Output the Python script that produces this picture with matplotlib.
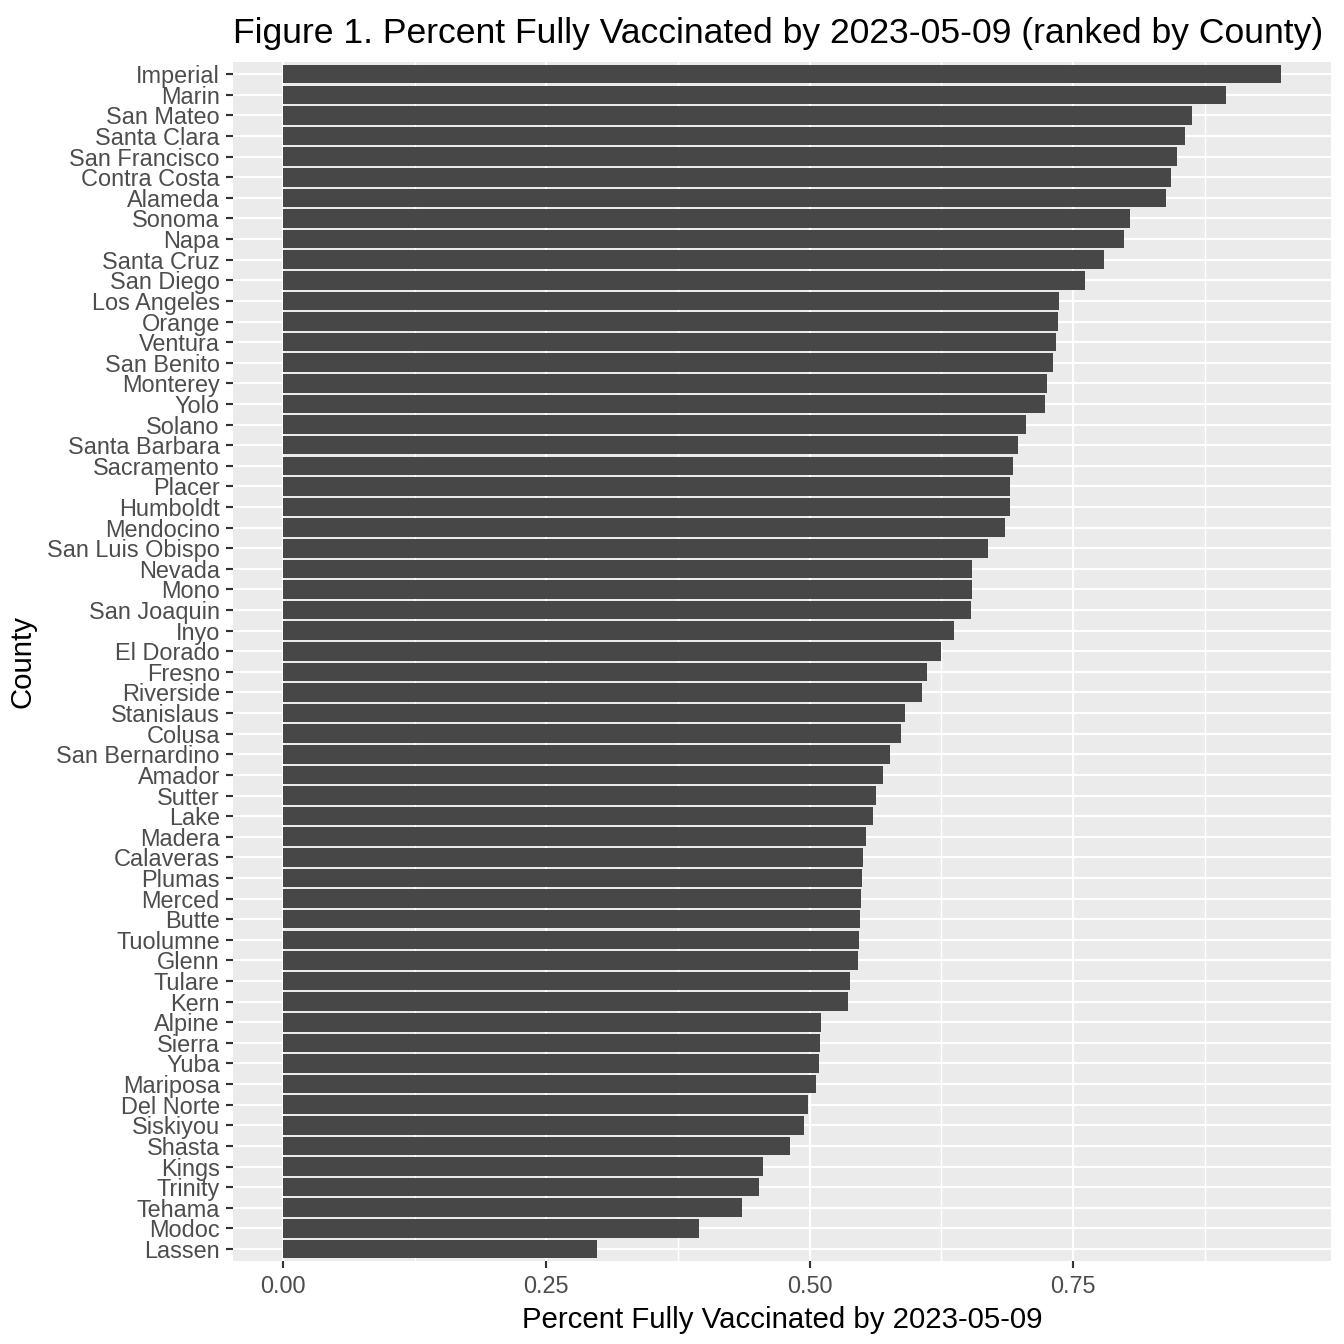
import matplotlib.pyplot as plt
import numpy as np

plt.rcParams["font.family"] = ["Liberation Sans", "DejaVu Sans"]

# counties listed top to bottom, as ranked in the chart
counties = ["Imperial", "Marin", "San Mateo", "Santa Clara", "San Francisco",
            "Contra Costa", "Alameda", "Sonoma", "Napa", "Santa Cruz",
            "San Diego", "Los Angeles", "Orange", "Ventura", "San Benito",
            "Monterey", "Yolo", "Solano", "Santa Barbara", "Sacramento",
            "Placer", "Humboldt", "Mendocino", "San Luis Obispo", "Nevada",
            "Mono", "San Joaquin", "Inyo", "El Dorado", "Fresno",
            "Riverside", "Stanislaus", "Colusa", "San Bernardino", "Amador",
            "Sutter", "Lake", "Madera", "Calaveras", "Plumas",
            "Merced", "Butte", "Tuolumne", "Glenn", "Tulare",
            "Kern", "Alpine", "Sierra", "Yuba", "Mariposa",
            "Del Norte", "Siskiyou", "Shasta", "Kings", "Trinity",
            "Tehama", "Modoc", "Lassen"]
pct_full = [0.947, 0.895, 0.863, 0.856, 0.849,
            0.843, 0.838, 0.804, 0.798, 0.779,
            0.761, 0.737, 0.736, 0.734, 0.731,
            0.725, 0.723, 0.705, 0.698, 0.693,
            0.690, 0.690, 0.685, 0.669, 0.654,
            0.654, 0.653, 0.637, 0.625, 0.611,
            0.607, 0.590, 0.587, 0.576, 0.570,
            0.563, 0.560, 0.553, 0.551, 0.550,
            0.549, 0.548, 0.547, 0.546, 0.538,
            0.536, 0.511, 0.510, 0.509, 0.506,
            0.498, 0.495, 0.481, 0.456, 0.452,
            0.436, 0.395, 0.298]
xticks = [0.0, 0.25, 0.5, 0.75]
xtick_labels = ["0.00", "0.25", "0.50", "0.75"]

n = len(counties)
ypos = np.arange(n)[::-1] + 1  # first county at the top

fig = plt.figure(figsize=(7, 7), dpi=192)
ax = fig.add_axes([0.1734, 0.0615, 0.8166, 0.8925])
ax.set_facecolor("#EBEBEB")

# grid (ggplot style)
for x in np.arange(0.125, 1.0, 0.25):
    ax.axvline(x, color="white", lw=0.55, zorder=0)
for x in xticks:
    ax.axvline(x, color="white", lw=0.8, zorder=0)
for y in ypos:
    ax.axhline(y, color="white", lw=0.8, zorder=0)

ax.barh(ypos, pct_full, height=0.9, color="#474747", zorder=2)

xmax = max(pct_full)
ax.set_xlim(-0.05 * xmax, 1.05 * xmax)
ax.set_ylim(0.4, n + 0.6)
ax.set_xticks(xticks)
ax.set_xticklabels(xtick_labels)
ax.set_yticks(ypos)
ax.set_yticklabels(counties)
ax.tick_params(axis="both", length=2.75, width=0.8, color="#333333",
               labelcolor="#4D4D4D", labelsize=8.8, pad=2.2)
for s in ax.spines.values():
    s.set_visible(False)

ax.set_xlabel("Percent Fully Vaccinated by 2023-05-09", fontsize=11, labelpad=3)
ax.set_ylabel("County", fontsize=11, labelpad=4)
ax.set_title("Figure 1. Percent Fully Vaccinated by 2023-05-09 (ranked by County)",
             fontsize=13.3, loc="left", x=0.0, pad=7)

fig.savefig("out.png", dpi=192)
